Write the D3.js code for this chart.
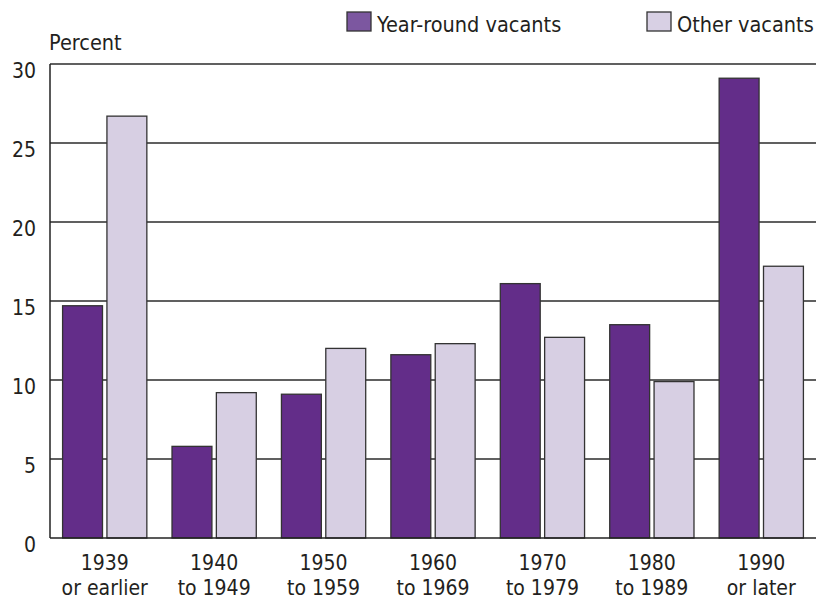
<!doctype html>
<html lang="en">

<head>
    <meta charset="utf-8">
    <title>Vacant units by year built</title>
    <script src="https://cdn.jsdelivr.net/npm/d3@7"></script>
    <style>
        body { margin: 0; background: #fff; }
        text { font-family: "DejaVu Sans Condensed", "DejaVu Sans", sans-serif; font-stretch: condensed; fill: #231f20; }
    </style>
</head>

<body>
    <script>
        // categories (two-line labels)
        var yearLine1 = ["1939", "1940", "1950", "1960", "1970", "1980", "1990"];
        var yearLine2 = ["or earlier", "to 1949", "to 1959", "to 1969", "to 1979", "to 1989", "or later"];

        // series values, percent
        var seriesNames = ["Year-round vacants", "Other vacants"];
        var yearRound = [14.7, 5.8, 9.1, 11.6, 16.1, 13.5, 29.1];
        var otherVacants = [26.7, 9.2, 12.0, 12.3, 12.7, 9.9, 17.2];

        // y ticks
        var yTicks = [0, 5, 10, 15, 20, 25, 30];

        // plot area (note: "top" is a reserved window property, so use other names)
        var svgWidth = 818, svgHeight = 601;
        var plotLeft = 50, plotRight = 816, plotTop = 64, plotBottom = 538;

        var barColors = ["#632d89", "#d7cfe3"];
        var legendColors = ["#7c57a0", "#d8d0e4"];

        var svg = d3.select("body")
            .append("svg")
            .attr("width", svgWidth)
            .attr("height", svgHeight);

        var x0 = d3.scaleBand()
            .domain(yearLine1)
            .range([plotLeft, plotRight])
            .paddingInner(0.23)
            .paddingOuter(0.115);

        var x1 = d3.scaleBand()
            .domain(seriesNames)
            .range([0, x0.bandwidth()])
            .paddingInner(0.1);

        var y = d3.scaleLinear()
            .domain([0, 30])
            .range([plotBottom, plotTop]);

        // gridlines
        svg.selectAll("line.grid")
            .data(yTicks.filter(function(d) { return d > 0; }))
            .enter()
            .append("line")
            .attr("class", "grid")
            .attr("x1", plotLeft)
            .attr("x2", plotRight)
            .attr("y1", function(d) { return y(d); })
            .attr("y2", function(d) { return y(d); })
            .attr("stroke", "#2b2b2b")
            .attr("stroke-width", 1.4);

        // y tick labels
        svg.selectAll("text.ylab")
            .data(yTicks)
            .enter()
            .append("text")
            .attr("class", "ylab")
            .attr("x", plotLeft - 14)
            .attr("y", function(d) { return y(d) + 13.5; })
            .attr("text-anchor", "end")
            .attr("font-size", "21px")
            .text(function(d) { return d; });

        svg.append("text")
            .attr("x", 49)
            .attr("y", 50)
            .attr("font-size", "21.5px")
            .text("Percent");

        // bars
        var rows = yearLine1.map(function(c, i) {
            return { cat: c, vals: [yearRound[i], otherVacants[i]] };
        });

        var groups = svg.selectAll("g.group")
            .data(rows)
            .enter()
            .append("g")
            .attr("class", "group")
            .attr("transform", function(d) { return "translate(" + x0(d.cat) + ",0)"; });

        groups.selectAll("rect")
            .data(function(d) { return d.vals; })
            .enter()
            .append("rect")
            .attr("x", function(d, i) { return x1(seriesNames[i]); })
            .attr("y", function(d) { return y(d); })
            .attr("width", x1.bandwidth())
            .attr("height", function(d) { return plotBottom - y(d); })
            .attr("fill", function(d, i) { return barColors[i]; })
            .attr("stroke", "#333")
            .attr("stroke-width", 1.3);

        // axis lines
        svg.append("line")
            .attr("x1", plotLeft).attr("x2", plotLeft)
            .attr("y1", plotTop).attr("y2", plotBottom)
            .attr("stroke", "#222").attr("stroke-width", 1.5);
        svg.append("line")
            .attr("x1", plotLeft).attr("x2", plotRight)
            .attr("y1", plotBottom).attr("y2", plotBottom)
            .attr("stroke", "#222").attr("stroke-width", 1.5);

        // x labels, two lines each
        var xl = svg.selectAll("text.xlab")
            .data(yearLine1)
            .enter()
            .append("text")
            .attr("class", "xlab")
            .attr("text-anchor", "middle")
            .attr("font-size", "21px")
            .attr("x", function(d) { return x0(d) + x0.bandwidth() / 2; })
            .attr("y", 570);
        xl.append("tspan").text(function(d) { return d; });
        xl.append("tspan")
            .attr("x", function(d) { return x0(d) + x0.bandwidth() / 2; })
            .attr("dy", 25)
            .text(function(d, i) { return yearLine2[i]; });

        // legend
        var legendX = [347, 647];
        var legend = svg.selectAll("g.legend")
            .data(seriesNames)
            .enter()
            .append("g")
            .attr("class", "legend")
            .attr("transform", function(d, i) { return "translate(" + legendX[i] + ",12)"; });
        legend.append("rect")
            .attr("width", 24)
            .attr("height", 19)
            .attr("fill", function(d, i) { return legendColors[i]; })
            .attr("stroke", "#333")
            .attr("stroke-width", 1.3);
        legend.append("text")
            .attr("x", 30)
            .attr("y", 19.5)
            .attr("font-size", "21.5px")
            .text(function(d) { return d; });
    </script>
</body>

</html>
